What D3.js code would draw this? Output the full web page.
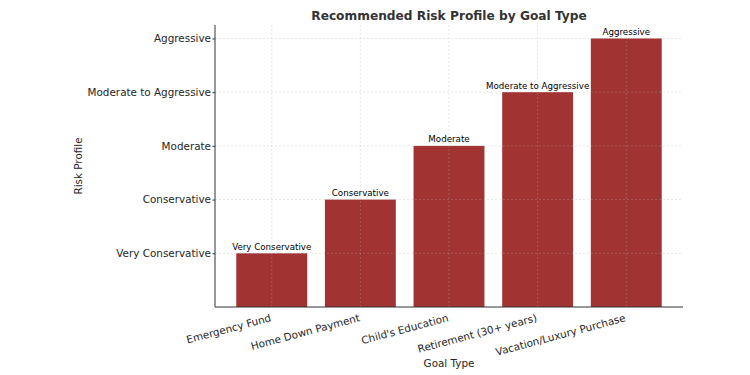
<!DOCTYPE html>
<html>
<head>
<meta charset="utf-8">
<script src="https://cdn.jsdelivr.net/npm/d3@7"></script>
<style>
  body { margin: 0; background: #fff; }
  text { font-family: "DejaVu Sans", sans-serif; fill: #262626; }
</style>
</head>
<body>
<div id="chart"></div>
<script>
var width = 750, height = 375;
var margin = {top: 25, right: 67, bottom: 68, left: 215};

var goals = ["Emergency Fund", "Home Down Payment", "Child's Education", "Retirement (30+ years)", "Vacation/Luxury Purchase"];
var levels = [1, 2, 3, 4, 5];
var levelNames = ["Very Conservative", "Conservative", "Moderate", "Moderate to Aggressive", "Aggressive"];
var goalLevels = [1, 2, 3, 4, 5];

var data = goals.map(function(g, i){ return {goal: g, level: goalLevels[i]}; });

var w = width - margin.left - margin.right,
    h = height - margin.top - margin.bottom;

var svg = d3.select("#chart").append("svg")
    .attr("width", width)
    .attr("height", height);

var g = svg.append("g")
    .attr("transform", "translate(" + margin.left + "," + margin.top + ")");

// scales (matplotlib-like: bar width 0.8, 5% margins)
var n = goals.length;
var lo = -0.4 - 0.05 * (n - 1 + 0.8), hi = (n - 1) + 0.4 + 0.05 * (n - 1 + 0.8);
var xLin = d3.scaleLinear().domain([lo, hi]).range([0, w]);
var xScale = function(name){ return xLin(goals.indexOf(name)); };
var bw = xLin(0.8) - xLin(0);
var yScale = d3.scaleLinear().domain([0, 5.25]).range([h, 0]);

// bars
g.selectAll(".bar")
    .data(data)
    .enter().append("rect")
    .attr("class", "bar")
    .attr("x", d => xScale(d.goal) - bw / 2)
    .attr("y", d => yScale(d.level))
    .attr("width", bw)
    .attr("height", d => h - yScale(d.level))
    .attr("fill", "#8b0000")
    .attr("fill-opacity", 0.8);

// grid (on top of bars)
g.selectAll(".hgrid")
    .data(levels)
    .enter().append("line")
    .attr("x1", 0).attr("x2", w)
    .attr("y1", d => yScale(d)).attr("y2", d => yScale(d))
    .attr("stroke", "#b0b0b0").attr("stroke-opacity", 0.4)
    .attr("stroke-dasharray", "2,2").attr("stroke-width", 0.8);

g.selectAll(".vgrid")
    .data(goals)
    .enter().append("line")
    .attr("x1", d => xScale(d)).attr("x2", d => xScale(d))
    .attr("y1", 0).attr("y2", h)
    .attr("stroke", "#b0b0b0").attr("stroke-opacity", 0.4)
    .attr("stroke-dasharray", "2,2").attr("stroke-width", 0.8);

// bar labels
g.selectAll(".lbl")
    .data(data)
    .enter().append("text")
    .attr("x", d => xScale(d.goal))
    .attr("y", d => yScale(d.level) - 3.5)
    .attr("text-anchor", "middle")
    .style("font-size", "8.7px")
    .style("fill", "#000")
    .text(d => levelNames[d.level - 1]);

// y axis
var yAxis = g.append("g")
    .call(d3.axisLeft(yScale).tickValues(levels)
        .tickFormat(d => levelNames[d - 1]).tickSize(2.5).tickPadding(1.5));
yAxis.select(".domain").attr("d", "M0,0V" + h).attr("stroke", "#333");
yAxis.selectAll(".tick line").attr("stroke", "#333");
yAxis.selectAll(".tick text")
    .style("font-size", "10.4px")
    .style("font-family", "DejaVu Sans")
    .style("fill", "#262626");

// x axis
g.append("line")
    .attr("x1", 0).attr("x2", w)
    .attr("y1", h).attr("y2", h)
    .attr("stroke", "#333");

g.selectAll(".xlab")
    .data(goals)
    .enter().append("text")
    .attr("transform", d => "translate(" + xScale(d) + "," + (h + 14) + ") rotate(-15)")
    .attr("text-anchor", "end")
    .style("font-size", "10.4px")
    .text(d => d);

// axis titles
svg.append("text")
    .attr("x", margin.left + w / 2)
    .attr("y", 367)
    .attr("text-anchor", "middle")
    .style("font-size", "10.4px")
    .text("Goal Type");

svg.append("text")
    .attr("transform", "translate(82," + (margin.top + h / 2) + ") rotate(-90)")
    .attr("text-anchor", "middle")
    .style("font-size", "10.4px")
    .text("Risk Profile");

// title
svg.append("text")
    .attr("x", margin.left + w / 2)
    .attr("y", 20)
    .attr("text-anchor", "middle")
    .style("font-size", "12.2px")
    .style("font-weight", "bold")
    .style("fill", "#333")
    .text("Recommended Risk Profile by Goal Type");
</script>
</body>
</html>
